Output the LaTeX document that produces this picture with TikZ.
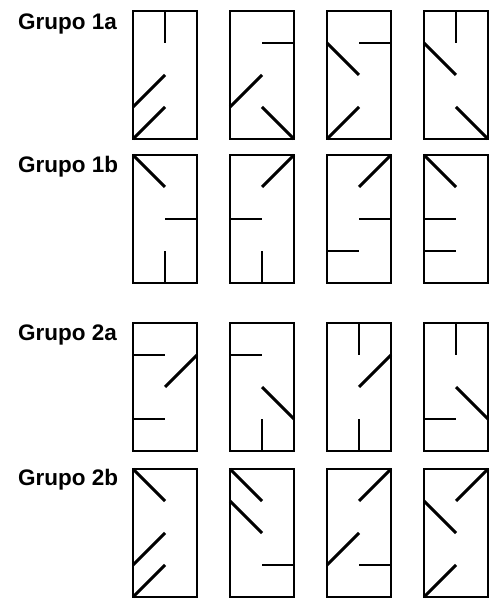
\documentclass[tikz,border=0pt]{standalone}
\usepackage{fontspec}
\newfontfamily\rotulo{Liberation Sans}
\usetikzlibrary{positioning}
\tikzset{pared/.style={line width=1.7pt},
  grupo/.style={anchor=base west,font=\rotulo\bfseries\fontsize{12.8}{15}\selectfont}}
\newcommand{\plano}[3]{%
  \begin{scope}[shift={(#1,#2)},x=0.64cm,y=0.64cm]
    \draw[pared] (0,0) rectangle (2,4);
    \foreach \xa/\ya/\xb/\yb in {#3} \draw[pared] (\xa,\ya)--(\xb,\yb);
  \end{scope}}

\begin{document}
\begin{tikzpicture}
\useasboundingbox (0,0) rectangle (9.82,12);
\node[grupo] (g1a) at (0.24,11.40) {Grupo 1a};
\plano{2.66}{9.22}{1/4/1/3, 0/1/1/2, 0/0/1/1}
\plano{4.60}{9.22}{2/3/1/3, 0/1/1/2, 1/1/2/0}
\plano{6.54}{9.22}{2/3/1/3, 0/3/1/2, 0/0/1/1}
\plano{8.48}{9.22}{1/4/1/3, 0/3/1/2, 1/1/2/0}
\node[grupo] (g1b) at (0.24,8.54) {Grupo 1b};
\plano{2.66}{6.34}{0/4/1/3, 2/2/1/2, 1/0/1/1}
\plano{4.60}{6.34}{2/4/1/3, 0/2/1/2, 1/0/1/1}
\plano{6.54}{6.34}{2/4/1/3, 2/2/1/2, 0/1/1/1}
\plano{8.48}{6.34}{0/4/1/3, 0/2/1/2, 0/1/1/1}
\node[grupo] (g2a) at (0.24,5.18) {Grupo 2a};
\plano{2.66}{2.98}{0/3/1/3, 2/3/1/2, 0/1/1/1}
\plano{4.60}{2.98}{0/3/1/3, 1/2/2/1, 1/0/1/1}
\plano{6.54}{2.98}{1/4/1/3, 2/3/1/2, 1/0/1/1}
\plano{8.48}{2.98}{1/4/1/3, 1/2/2/1, 0/1/1/1}
\node[grupo] (g2b) at (0.24,2.28) {Grupo 2b};
\plano{2.66}{0.06}{0/4/1/3, 0/1/1/2, 0/0/1/1}
\plano{4.60}{0.06}{0/4/1/3, 0/3/1/2, 2/1/1/1}
\plano{6.54}{0.06}{2/4/1/3, 0/1/1/2, 2/1/1/1}
\plano{8.48}{0.06}{2/4/1/3, 0/3/1/2, 0/0/1/1}
\end{tikzpicture}
\end{document}
